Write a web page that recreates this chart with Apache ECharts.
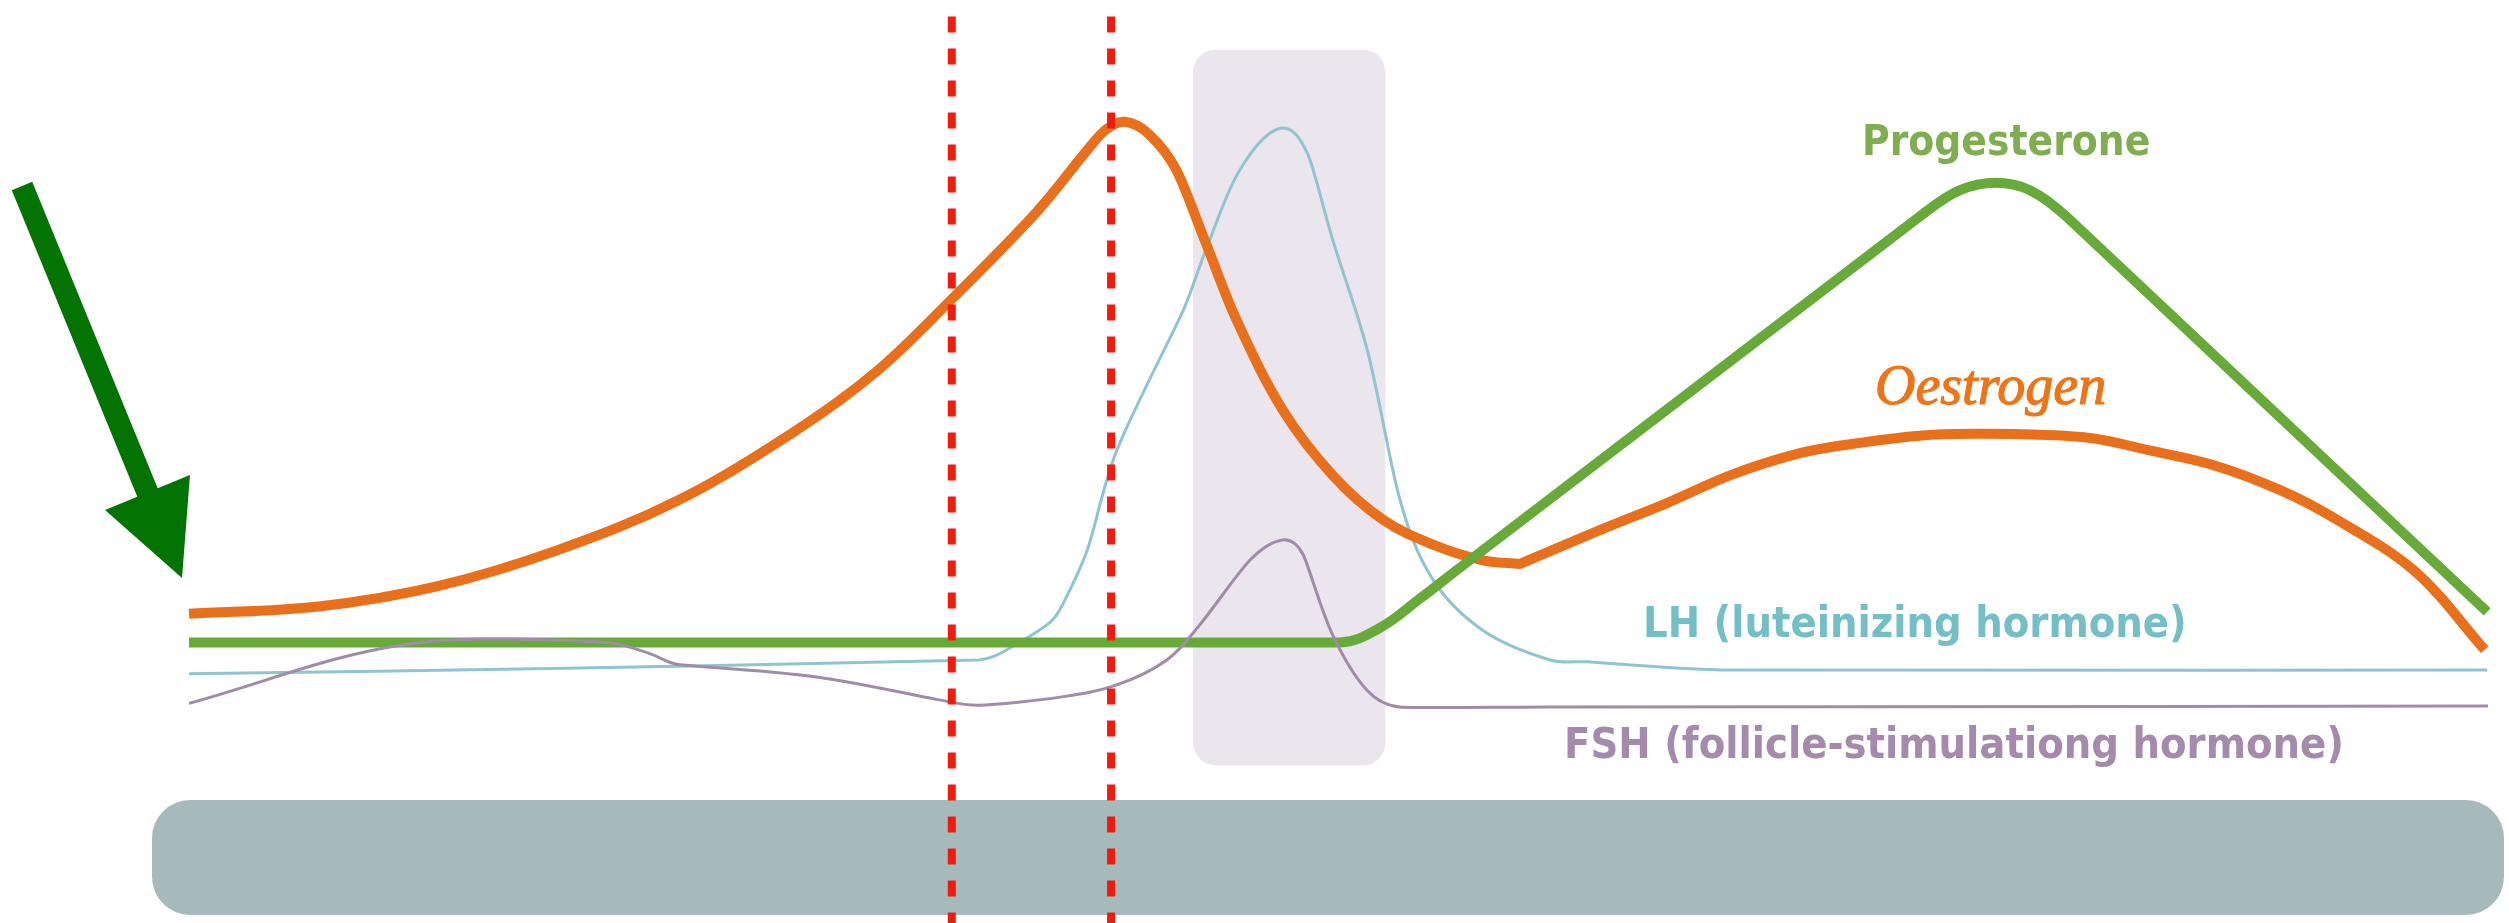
<!DOCTYPE html>
<html>
<head>
<meta charset="utf-8">
<script src="https://cdn.jsdelivr.net/npm/echarts@6/dist/echarts.min.js"></script>
<style>
html,body{margin:0;padding:0;background:#ffffff;}
#chart{width:2509px;height:923px;}
</style>
</head>
<body>
<div id="chart"></div>
<script>
// x = day of cycle (0..28), y = relative hormone level (0..100)
const oestrogen = [
  [0, 33.5], [1.58, 34.3], [3.03, 36.5], [4.49, 40.4], [5.96, 45.8], [7.40, 53.4],
  [8.38, 59.8], [9.28, 67.5], [10.32, 77.0], [10.89, 83.2], [11.16, 85.9], [11.40, 86.8], [11.70, 85.4],
  [12.03, 81.5], [12.40, 73.3], [12.76, 65.3], [13.32, 55.6], [13.93, 48.5], [14.54, 43.7],
  [15.15, 41.0], [15.76, 39.3], [16.21, 38.9], [17.19, 42.6], [18.00, 45.5], [18.80, 48.6],
  [19.62, 50.9], [20.25, 51.9], [21.08, 52.8], [21.73, 53.0], [22.54, 52.9], [23.19, 52.5],
  [23.88, 51.2], [24.66, 49.6], [25.47, 46.9], [26.12, 43.9], [27.11, 38.1], [27.96, 29.6]
];
const progesterone = [
  [0, 30.4], [7.0, 30.4], [14.02, 30.4], [14.51, 32.0], [15.00, 35.2], [15.48, 38.5],
  [21.13, 76.9], [21.57, 79.4], [22.00, 80.2], [22.42, 79.4], [22.87, 76.5], [27.99, 33.7]
];
const lh = [
  [0, 27.0], [4.58, 27.6], [9.62, 28.5], [10.02, 29.9], [10.49, 32.6], [10.64, 34.5],
  [10.94, 40.4], [11.30, 51.2], [12.11, 66.4], [12.40, 73.3], [12.80, 81.6], [13.29, 86.1],
  [13.62, 83.4], [13.93, 74.0], [14.35, 62.1], [14.75, 45.8], [15.15, 37.2], [15.76, 31.7],
  [16.58, 28.5], [17.03, 28.3], [18.79, 27.4], [27.99, 27.4]
];
const fsh = [
  [0, 23.8], [2.65, 30.2], [5.08, 30.4], [5.58, 29.3], [5.96, 28.0],
  [7.60, 26.7], [9.12, 24.2], [9.62, 23.6], [10.63, 24.5], [11.30, 25.8], [11.91, 28.5],
  [12.31, 32.3], [12.92, 39.3], [13.32, 41.5], [13.57, 39.9], [13.93, 31.2], [14.35, 25.2],
  [14.75, 23.4], [16.58, 23.4], [28.0, 23.5]
];
// ovulation window (x from, x to, y from, y to)
const ovulationBand = [[12.23, 14.57, 17.1, 94.6]];
// marker days (red dashed lines)
const markerDays = [9.29, 11.23];
const markerTop = 98.2;

const labels = {
  progesterone: 'Progesterone',
  oestrogen: 'Oestrogen',
  lh: 'LH (luteinizing hormone)',
  fsh: 'FSH (follicle-stimulationg hormone)'
};

const chart = echarts.init(document.getElementById('chart'), null, {renderer: 'canvas'});

// smooth curve through the data points, positioned with the chart's own coordinate system
function curveSeries(name, points, color, width, z, corners) {
  corners = corners || [];
  return {
    type: 'custom', name: name, data: points, z: z, silent: true,
    encode: {x: 0, y: 1},
    renderItem: function (params, api) {
      if (params.dataIndex !== 0) return null;
      const P = points.map(p => api.coord(p));
      const n = P.length;
      const Ls = [];
      for (let i = 0; i < n - 1; i++) Ls.push(Math.hypot(P[i + 1][0] - P[i][0], P[i + 1][1] - P[i][1]));
      const dirs = P.map((p, i) => {
        if (corners.indexOf(i) >= 0) return null;
        const a = P[Math.max(i - 1, 0)], b = P[Math.min(i + 1, n - 1)];
        const dx = b[0] - a[0], dy = b[1] - a[1];
        const l = Math.hypot(dx, dy) || 1;
        return [dx / l, dy / l];
      });
      const k = 0.36;
      let d = 'M' + P[0][0] + ' ' + P[0][1];
      for (let i = 0; i < n - 1; i++) {
        const a = P[i], b = P[i + 1];
        const L = Ls[i];
        const seg = [(b[0] - a[0]) / L, (b[1] - a[1]) / L];
        const da = dirs[i] || seg;
        const db = dirs[i + 1] || seg;
        const armA = k * Math.min(L, i > 0 ? Ls[i - 1] * 1.2 : L);
        const armB = k * Math.min(L, i + 1 < n - 1 ? Ls[i + 1] * 1.2 : L);
        const c1 = [a[0] + da[0] * armA, a[1] + da[1] * armA];
        const c2 = [b[0] - db[0] * armB, b[1] - db[1] * armB];
        d += ' C' + c1[0] + ' ' + c1[1] + ' ' + c2[0] + ' ' + c2[1] + ' ' + b[0] + ' ' + b[1];
      }
      return {
        type: 'path',
        shape: {pathData: d},
        style: {fill: null, stroke: color, lineWidth: width, lineJoin: 'round', lineCap: 'butt'}
      };
    }
  };
}

const markerSeries = markerDays.map((d, i) => ({
  type: 'line',
  name: 'marker' + i,
  data: [[d, markerTop], [d, 0]],
  showSymbol: false,
  symbol: 'none',
  silent: true,
  z: 20,
  lineStyle: {color: '#ee1c0e', width: 8, type: [16, 16]}
}));

const condensed = '"DejaVu Sans Condensed", "DejaVu Sans", sans-serif';

const option = {
  backgroundColor: '#ffffff',
  animation: false,
  grid: {left: 189, right: 21, top: 0, bottom: 0},
  xAxis: {type: 'value', min: 0, max: 28, show: false},
  yAxis: {type: 'value', min: 0, max: 100, show: false},
  graphic: [
    { // green arrow
      type: 'polygon', z: 50,
      shape: {points: [[11.8,190.2],[32.2,181.8],[157.7,488.3],[190,475],[182,578],[105,510],[137.3,496.7]]},
      style: {fill: '#037303'}
    },
    { // phase bar
      type: 'rect', z: 1,
      shape: {x: 152, y: 800, width: 2352, height: 115, r: 38},
      style: {fill: '#a6babb'}
    },
    {
      type: 'text', z: 30,
      style: {text: labels.progesterone, x: 1862, y: 144, verticalAlign: 'middle',
        fill: '#7fae50', font: 'bold 42px ' + condensed}
    },
    {
      type: 'text', z: 30,
      style: {text: labels.oestrogen, x: 1875, y: 389, verticalAlign: 'middle',
        fill: '#ee7418', stroke: '#ee7418', lineWidth: 1.2,
        font: 'italic 56px "Liberation Serif", serif'}
    },
    {
      type: 'text', z: 30,
      style: {text: labels.lh, x: 1643, y: 626, verticalAlign: 'middle',
        fill: '#74bec6', font: 'bold 43px ' + condensed}
    },
    {
      type: 'text', z: 30,
      style: {text: labels.fsh, x: 1564, y: 747, verticalAlign: 'middle',
        fill: '#a68aae', font: 'bold 43px ' + condensed}
    }
  ],
  series: [
    {
      type: 'custom',
      name: 'ovulation',
      data: ovulationBand,
      z: 1,
      silent: true,
      renderItem: function (params, api) {
        const p0 = api.coord([api.value(0), api.value(3)]);
        const p1 = api.coord([api.value(1), api.value(2)]);
        return {
          type: 'rect',
          shape: {x: p0[0], y: p0[1], width: p1[0] - p0[0], height: p1[1] - p0[1], r: 22},
          style: {fill: '#ebe6ee'}
        };
      }
    },
    curveSeries('LH', lh, '#8fc4d0', 3, 5),
    curveSeries('Oestrogen', oestrogen, '#e8701c', 10, 6, [21]),
    curveSeries('Progesterone', progesterone, '#68aa3a', 10, 7),
    curveSeries('FSH', fsh, '#a08ba8', 3, 8)
  ].concat(markerSeries)
};
chart.setOption(option);
</script>
</body>
</html>
